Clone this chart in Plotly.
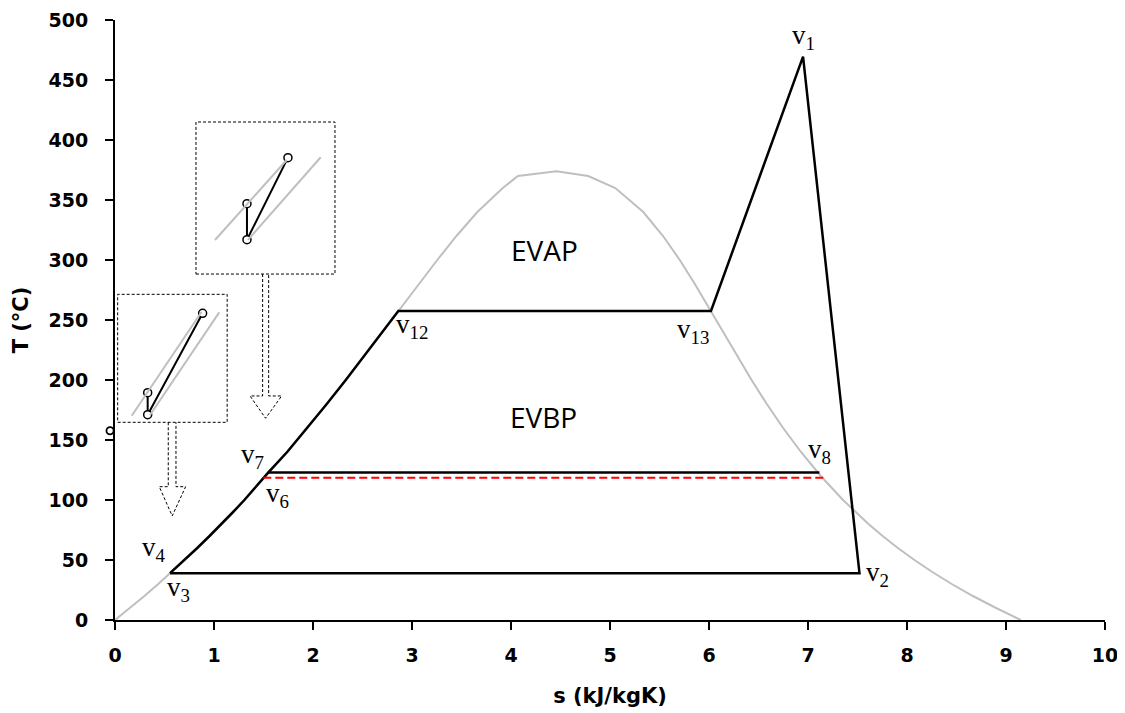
import plotly.graph_objects as go

# ---------------- data ----------------
# saturation dome (water), liquid and vapour branches
dome_T_liq = [0, 10, 20, 30, 40, 50, 60, 70, 80, 90, 100, 120, 140, 160, 180, 200,
              220, 240, 260, 280, 300, 320, 340, 360, 370, 374]
dome_s_liq = [0.000, 0.151, 0.297, 0.437, 0.572, 0.704, 0.831, 0.955, 1.076, 1.193,
              1.307, 1.528, 1.739, 1.943, 2.139, 2.331, 2.518, 2.702, 2.885, 3.069,
              3.255, 3.449, 3.660, 3.917, 4.070, 4.460]
dome_T_vap = [370, 360, 340, 320, 300, 280, 260, 240, 220, 200, 180, 160, 140, 120,
              100, 90, 80, 70, 60, 50, 40, 30, 20, 10, 0]
dome_s_vap = [4.780, 5.054, 5.336, 5.536, 5.705, 5.857, 6.001, 6.142, 6.284, 6.430,
              6.584, 6.749, 6.929, 7.129, 7.354, 7.478, 7.611, 7.754, 7.908, 8.075,
              8.256, 8.452, 8.666, 8.900, 9.150]

# main cycle v3 -> (liquid line) -> v12 -> v13 -> v1 -> v2 -> v3
cycle_s = [0.556, 0.704, 0.831, 0.955, 1.076, 1.193, 1.307, 1.498, 1.549, 1.739,
           1.943, 2.139, 2.331, 2.518, 2.702, 2.862, 6.020, 6.950, 7.520, 0.556]
cycle_T = [39, 50, 60, 70, 80, 90, 100, 118.5, 123, 140,
           160, 180, 200, 220, 240, 257.5, 257.5, 469.5, 39, 39]

# low-pressure evaporator line v7 -> v8 and dashed line from v6
evbp_s = [1.549, 7.115]
evbp_T = [123, 123]
dash_s = [1.498, 7.155]
dash_T = [118.5, 118.5]

# state point labels
state_names = ["1", "2", "3", "4", "6", "7", "8", "12", "13"]
state_s = [6.950, 7.520, 0.556, 0.556, 1.498, 1.549, 7.115, 2.862, 6.020]
state_T = [469.5, 39, 39, 39, 118.5, 123, 123, 257.5, 257.5]

region_names = ["EVAP", "EVBP"]
region_s = [4.34, 4.33]
region_T = [308, 169.5]

# stray open marker at the axis
stray_s = [-0.05]
stray_T = [157.7]

# ---------------- styling / layout ----------------
S_RANGE = [0, 10]
T_RANGE = [0, 500]
label_shift = {  # (xshift, yshift) in px
    "1": (-12, 2), "2": (6, -19), "3": (-4, -34), "4": (-29, 6),
    "6": (2, -35), "7": (-28, -2), "8": (-12, 3), "12": (-3, -33), "13": (-35, -38),
}

fig = go.Figure()

fig.add_trace(go.Scatter(x=dome_s_liq + dome_s_vap, y=dome_T_liq + dome_T_vap,
                         mode="lines", line=dict(color="#BFBFBF", width=2),
                         hoverinfo="skip", showlegend=False))
fig.add_trace(go.Scatter(x=cycle_s, y=cycle_T, mode="lines",
                         line=dict(color="black", width=2.5), showlegend=False))
fig.add_trace(go.Scatter(x=evbp_s, y=evbp_T, mode="lines",
                         line=dict(color="black", width=2.5), showlegend=False))
fig.add_trace(go.Scatter(x=dash_s, y=dash_T, mode="lines",
                         line=dict(color="#FF0000", width=2, dash="8px,4px"),
                         showlegend=False))

# ---------- schematic zoom insets (decoration) ----------
box_dash = "3px,2px"
insets = [
    dict(rect=(0.818, 288.3, 2.222, 415.0),
         gray=[((1.010, 316.7), (1.734, 383.3)), ((1.343, 316.7), (2.078, 385.6))],
         pts=[(1.333, 346.9), (1.333, 316.9), (1.747, 385.3)],
         arrow=dict(x1=1.491, x2=1.552, xl=1.364, xr=1.683, xt=1.521,
                    ytop=288.3, yh=186.7, ytip=168.1)),
    dict(rect=(0.027, 164.75, 1.133, 271.4),
         gray=[((0.169, 170.25), (0.875, 256.9)), ((0.354, 170.8), (1.053, 256.4))],
         pts=[(0.330, 189.4), (0.330, 171.1), (0.885, 255.6)],
         arrow=dict(x1=0.538, x2=0.616, xl=0.447, xr=0.713, xt=0.578,
                    ytop=164.75, yh=111.1, ytip=86.7)),
]
marker_x, marker_y = [], []
for ins in insets:
    x0, y0, x1, y1 = ins["rect"]
    fig.add_shape(type="rect", x0=x0, y0=y0, x1=x1, y1=y1, xref="x", yref="y",
                  line=dict(color="black", width=1, dash=box_dash))
    for (a, b) in ins["gray"]:
        fig.add_shape(type="line", x0=a[0], y0=a[1], x1=b[0], y1=b[1],
                      line=dict(color="#BFBFBF", width=2))
    p = ins["pts"]
    fig.add_trace(go.Scatter(x=[q[0] for q in p], y=[q[1] for q in p], mode="lines",
                             line=dict(color="black", width=2), showlegend=False))
    marker_x += [q[0] for q in p]
    marker_y += [q[1] for q in p]
    a = ins["arrow"]
    path = (f"M {a['x1']},{a['ytop']} L {a['x1']},{a['yh']} L {a['xl']},{a['yh']} "
            f"L {a['xt']},{a['ytip']} L {a['xr']},{a['yh']} L {a['x2']},{a['yh']} "
            f"L {a['x2']},{a['ytop']}")
    fig.add_shape(type="path", path=path, xref="x", yref="y",
                  line=dict(color="black", width=1, dash=box_dash))

fig.add_trace(go.Scatter(x=marker_x, y=marker_y, mode="markers",
                         marker=dict(size=8, color="white",
                                     line=dict(color="black", width=1.5)),
                         showlegend=False))

# stray marker sits just outside the axis range -> drawn as an unclipped
# circle positioned in paper fractions of the axis ranges
r_px_x, r_px_y = 3.6 / 990, 3.6 / 600
for s, T in zip(stray_s, stray_T):
    px = (s - S_RANGE[0]) / (S_RANGE[1] - S_RANGE[0])
    py = (T - T_RANGE[0]) / (T_RANGE[1] - T_RANGE[0])
    fig.add_shape(type="circle", xref="paper", yref="paper",
                  x0=px - r_px_x, x1=px + r_px_x, y0=py - r_px_y, y1=py + r_px_y,
                  fillcolor="white", line=dict(color="black", width=1.8),
                  layer="below")

for n, s, T in zip(state_names, state_s, state_T):
    dx, dy = label_shift[n]
    fig.add_annotation(x=s, y=T, text=f"v<sub>{n}</sub>", showarrow=False,
                       xanchor="left", yanchor="bottom", xshift=dx, yshift=dy,
                       borderpad=0,
                       font=dict(family="Liberation Serif", size=27, color="black"))

for n, s, T in zip(region_names, region_s, region_T):
    fig.add_annotation(x=s, y=T, text=n, showarrow=False,
                       font=dict(family="Open Sans", size=28, color="black"))

axis_font = dict(family="DejaVu Sans", size=19, color="black", weight="bold")
title_font = dict(family="DejaVu Sans", size=21, color="black", weight="bold")
fig.update_xaxes(range=S_RANGE, dtick=1, showline=True, linecolor="black", linewidth=2,
                 ticks="outside", ticklen=8, tickwidth=1.5, tickcolor="black",
                 showgrid=False, zeroline=False, tickfont=axis_font,
                 ticklabelstandoff=9, automargin=False,
                 title=dict(text="s (kJ/kgK)", standoff=24, font=title_font))
fig.update_yaxes(range=T_RANGE, dtick=50, showline=True, linecolor="black", linewidth=2,
                 ticks="outside", ticklen=8, tickwidth=1.5, tickcolor="black",
                 showgrid=False, zeroline=False, tickfont=axis_font,
                 ticklabelstandoff=13, automargin=False,
                 title=dict(text="T (°C)", standoff=14, font=title_font))

# page body adds an 8px offset; margins compensate so the plot area sits at
# x 115..1105, y 20..620 of the window
fig.update_layout(width=1125, height=713, margin=dict(l=107, r=28, t=12, b=101),
                  plot_bgcolor="white", paper_bgcolor="white")

fig.write_html("out.html")
